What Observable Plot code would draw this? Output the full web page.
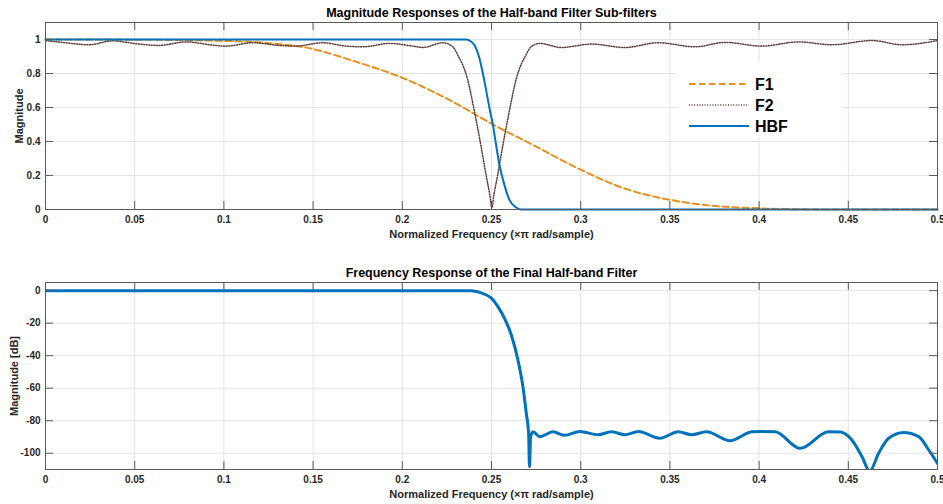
<!DOCTYPE html>
<html><head><meta charset="utf-8">
<script src="https://cdn.jsdelivr.net/npm/d3@7"></script>
<script src="https://cdn.jsdelivr.net/npm/@observablehq/plot@0.6"></script>
<style>
body{margin:0;background:#fff;font-family:"Liberation Sans",Arial,sans-serif;}
#wrap{position:relative;width:943px;height:504px;overflow:hidden;}
#wrap svg.plot{display:block;}
#legend{position:absolute;left:677px;top:63px;width:165px;height:74px;background:#fff;}
</style></head><body><div id="wrap"></div>
<script>
// ---------- data ----------
const xTicks = [0, 0.05, 0.1, 0.15, 0.2, 0.25, 0.3, 0.35, 0.4, 0.45, 0.5];
const topYTicks = [0, 0.2, 0.4, 0.6, 0.8, 1];
const botYTicks = [-100, -80, -60, -40, -20, 0];

const titleTop = "Magnitude Responses of the Half-band Filter Sub-filters";
const titleBot = "Frequency Response of the Final Half-band Filter";
const xLabel = "Normalized Frequency (\u00d7\u03c0 rad/sample)";
const yLabelTop = "Magnitude";
const yLabelBot = "Magnitude [dB]";
const seriesNames = ["F1", "F2", "HBF"];

// F1 (dashed)
const fF1 = [0, 0.05, 0.08, 0.1, 0.12, 0.14, 0.15, 0.175, 0.2, 0.225, 0.25, 0.275, 0.3, 0.325, 0.35, 0.375, 0.4, 0.425, 0.45, 0.5];
const magF1 = [1.0, 0.999, 0.996, 0.992, 0.983, 0.962, 0.944, 0.866, 0.775, 0.652, 0.505, 0.37, 0.234, 0.122, 0.057, 0.021, 0.007, 0.001, 0, 0];

// F2 (dotted)
const fF2 = [0, 0.0112, 0.0243, 0.0375, 0.0524, 0.0637, 0.0787, 0.0936, 0.1011, 0.1161, 0.1311, 0.1404, 0.1554, 0.1685, 0.1779, 0.1929, 0.206, 0.2116, 0.2228,
  0.2285, 0.2315, 0.2335, 0.2365, 0.24, 0.244, 0.247, 0.249, 0.2502, 0.2514, 0.2534, 0.2564, 0.2604, 0.2639, 0.2669, 0.2689, 0.272, 0.277,
  0.2892, 0.3061, 0.3248, 0.3435, 0.3641, 0.381, 0.4015, 0.4221, 0.4409, 0.4633, 0.4802, 0.5];
const magF2 = [0.994, 0.981, 0.969, 0.992, 0.973, 0.965, 0.986, 0.967, 0.961, 0.981, 0.965, 0.961, 0.981, 0.961, 0.957, 0.977, 0.961, 0.953, 0.981,
  0.955, 0.9, 0.86, 0.77, 0.6, 0.38, 0.2, 0.09, 0.01, 0.09, 0.2, 0.38, 0.6, 0.77, 0.86, 0.9, 0.955, 0.977,
  0.953, 0.973, 0.953, 0.981, 0.957, 0.983, 0.961, 0.986, 0.969, 0.994, 0.969, 0.994];

// HBF (solid, linear magnitude)
const fHBF = [0, 0.1, 0.2, 0.2358, 0.238, 0.2404, 0.2433, 0.2461, 0.2489, 0.2508, 0.2526, 0.2545, 0.2573, 0.2601, 0.2639, 0.2667, 0.275, 0.3, 0.4, 0.5];
const magHBF = [1, 1, 1, 1, 0.992, 0.967, 0.887, 0.751, 0.594, 0.496, 0.378, 0.26, 0.142, 0.055, 0.012, 0, 0, 0, 0, 0];

// Final half-band filter (dB)
const fDB = [0, 0.1, 0.2, 0.2386, 0.2415, 0.2442, 0.2498, 0.2536, 0.2573, 0.2611, 0.2648, 0.2676, 0.2695, 0.2708, 0.2713, 0.2719, 0.2733, 0.277, 0.2845, 0.291, 0.2995,
  0.3098, 0.3173, 0.3248, 0.3323, 0.3444, 0.3547, 0.3622, 0.3706, 0.3837, 0.396, 0.4015, 0.409, 0.423, 0.4389, 0.4455, 0.452, 0.4577, 0.462, 0.467, 0.4726, 0.481, 0.4895, 0.4951, 0.5];
const magDB = [0, 0, 0, 0, -0.5, -1.4, -4.5, -9.8, -17, -27.3, -42.6, -59, -75.4, -87.8, -108.3, -90, -86.8, -89.8, -86.8, -89, -86.6,
  -88.6, -86.8, -88.6, -86.6, -90.8, -86.8, -88.6, -86.8, -92.3, -86.8, -86.6, -86.8, -97, -86.8, -87, -91.9, -102.2, -111, -100, -90.8, -87.2, -89.8, -98, -106.3];

// ---------- styles ----------
const blue = "#0072BD", orange = "#E8901E", brown = "#5e3c3c";
const gridColor = "#e4e4e4", boxColor = "#595959", tickText = "#262626";
const W = 943, H = 252, ML = 45, MR = 6;
const fmt = d => String(d);
const dashF1 = "6.5,3.5", dashF2 = "1,1.6";

function panel({yDomain, yTicks, marginTop, marginBottom, title, ylabel, ylabelDx, lines}) {
  const fw = W - ML - MR, fh = H - marginTop - marginBottom, tk = 8;
  return Plot.plot({
    width: W, height: H, marginLeft: ML, marginRight: MR, marginTop, marginBottom,
    style: {fontFamily: "'Liberation Sans', Arial, sans-serif", fontSize: "10px", fontWeight: "bold", color: tickText, background: "#fff"},
    x: {domain: [0, 0.5]},
    y: {domain: yDomain},
    marks: [
      Plot.gridX(xTicks, {x: d => d, stroke: gridColor, strokeOpacity: 1}),
      Plot.gridY(yTicks, {y: d => d, stroke: gridColor, strokeOpacity: 1}),
      ...lines,
      Plot.frame({stroke: boxColor, strokeWidth: 1}),
      Plot.tickX(xTicks, {x: d => d, stroke: boxColor, insetTop: fh - tk}),
      Plot.tickX(xTicks, {x: d => d, stroke: boxColor, insetBottom: fh - tk}),
      Plot.tickY(yTicks, {y: d => d, stroke: boxColor, insetRight: fw - tk}),
      Plot.tickY(yTicks, {y: d => d, stroke: boxColor, insetLeft: fw - tk}),
      Plot.axisX(xTicks, {tickSize: 0, tickPadding: 6, tickFormat: fmt, label: null, fill: tickText, fontWeight: "bold"}),
      Plot.axisY(yTicks, {tickSize: 0, tickPadding: 5, tickFormat: fmt, label: null, fill: tickText, fontWeight: "bold"}),
      Plot.text([xLabel], {text: d => d, frameAnchor: "bottom", lineAnchor: "middle", textAnchor: "middle", dy: 25, fontSize: 11, fontWeight: "bold", fill: tickText}),
      Plot.text([ylabel], {text: d => d, frameAnchor: "left", lineAnchor: "middle", textAnchor: "middle", rotate: -90, dx: ylabelDx, fontSize: 11, fontWeight: "bold", fill: tickText}),
      Plot.text([title], {text: d => d, frameAnchor: "top", lineAnchor: "middle", textAnchor: "middle", dy: -9.5, fontSize: 12.5, fontWeight: "bold", fill: "#000"})
    ]
  });
}

const topPlot = panel({
  yDomain: [0, 1.1], yTicks: topYTicks, marginTop: 22, marginBottom: 43,
  title: titleTop, ylabel: yLabelTop, ylabelDx: -26,
  lines: [
    Plot.line(fF1, {x: fF1, y: magF1, curve: "catmull-rom", stroke: orange, strokeWidth: 2, strokeDasharray: dashF1}),
    Plot.line(fF2, {x: fF2, y: magF2, curve: "monotone-x", stroke: brown, strokeWidth: 1.5, strokeDasharray: dashF2}),
    Plot.line(fHBF, {x: fHBF, y: magHBF, curve: "monotone-x", stroke: blue, strokeWidth: 2})
  ]
});

const botPlot = panel({
  yDomain: [-110, 5], yTicks: botYTicks, marginTop: 30, marginBottom: 35,
  title: titleBot, ylabel: yLabelBot, ylabelDx: -31,
  lines: [
    Plot.line(fDB, {x: fDB, y: magDB, curve: "monotone-x", stroke: blue, strokeWidth: 3, clip: true})
  ]
});

const wrap = document.getElementById("wrap");
wrap.appendChild(topPlot);
wrap.appendChild(botPlot);

// legend (top panel)
const styles = [
  {stroke: orange, width: 2, dash: dashF1},
  {stroke: brown, width: 1.5, dash: dashF2},
  {stroke: blue, width: 2, dash: null}
];
const legend = document.createElement("div");
legend.id = "legend";
const ns = "http://www.w3.org/2000/svg";
const lsvg = document.createElementNS(ns, "svg");
lsvg.setAttribute("width", 165); lsvg.setAttribute("height", 74);
seriesNames.forEach((name, i) => {
  const y = 21 + i * 21;
  const ln = document.createElementNS(ns, "line");
  ln.setAttribute("x1", 12); ln.setAttribute("x2", 72);
  ln.setAttribute("y1", y); ln.setAttribute("y2", y);
  ln.setAttribute("stroke", styles[i].stroke);
  ln.setAttribute("stroke-width", styles[i].width);
  if (styles[i].dash) ln.setAttribute("stroke-dasharray", styles[i].dash);
  lsvg.appendChild(ln);
  const tx = document.createElementNS(ns, "text");
  tx.setAttribute("x", 78); tx.setAttribute("y", y);
  tx.setAttribute("dy", "0.36em");
  tx.setAttribute("font-size", 16); tx.setAttribute("font-weight", "bold");
  tx.setAttribute("font-family", "'Liberation Sans', Arial, sans-serif");
  tx.setAttribute("fill", "#000");
  tx.textContent = name;
  lsvg.appendChild(tx);
});
legend.appendChild(lsvg);
wrap.appendChild(legend);
</script></body></html>
